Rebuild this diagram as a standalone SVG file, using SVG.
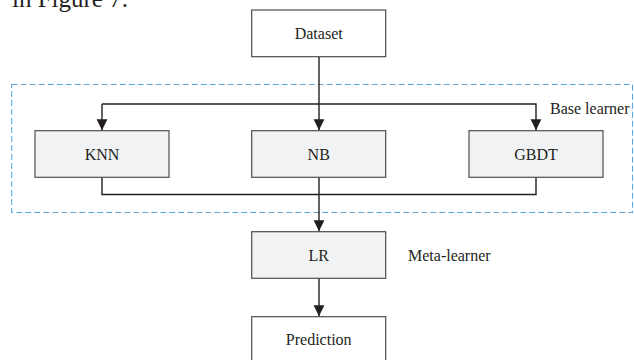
<svg xmlns="http://www.w3.org/2000/svg" width="634" height="360" viewBox="0 0 634 360">
<style>
.box{stroke:#4d4d4d;stroke-width:1.2}
.gray{fill:#f1f2f4}
.white{fill:#ffffff}
.t{font-size:16px;fill:#231f20}
.c{text-anchor:middle}
.ln{fill:none;stroke:#231f20;stroke-width:1.4}
.dash{fill:none;stroke:#5ba6de;stroke-width:1.1;stroke-dasharray:6,3}
</style>
<defs>
<marker id="ah" markerUnits="userSpaceOnUse" markerWidth="12" markerHeight="12" viewBox="0 0 12 12" refX="11" refY="6" orient="auto">
<path d="M0,0.6 L11,6 L0,11.4 Z" fill="#231f20"/>
</marker>
</defs>
<rect width="634" height="360" fill="#ffffff"/>
<g font-family="Liberation Serif, Times New Roman, serif">
<text x="12" y="7" font-size="25" fill="#231f20">in Figure 7.</text>
<g id="base-learner-group">
<rect class="dash" x="11.7" y="84.5" width="620.8" height="128"/>
<text class="t" x="550" y="113.5">Base learner</text>
</g>
<g id="connectors">
<line class="ln" x1="319" y1="56.7" x2="319" y2="130.2" marker-end="url(#ah)"/>
<polyline class="ln" points="102,104 536,104 536,130.2" marker-end="url(#ah)"/>
<line class="ln" x1="102" y1="104" x2="102" y2="130.2" marker-end="url(#ah)"/>
<polyline class="ln" points="102,177.3 102,194.5 536,194.5 536,177.3"/>
<line class="ln" x1="319" y1="177.3" x2="319" y2="231.2" marker-end="url(#ah)"/>
<line class="ln" x1="319" y1="278.3" x2="319" y2="316.2" marker-end="url(#ah)"/>
</g>
<g id="dataset">
<rect class="box white" x="251.7" y="10" width="134" height="46.7"/>
<text class="t c" x="318.7" y="38.8">Dataset</text>
</g>
<g id="knn">
<rect class="box gray" x="35" y="130.7" width="134" height="46.6"/>
<text class="t c" x="102" y="159.5">KNN</text>
</g>
<g id="nb">
<rect class="box gray" x="251.7" y="130.7" width="134" height="46.6"/>
<text class="t c" x="318.7" y="159.5">NB</text>
</g>
<g id="gbdt">
<rect class="box gray" x="469" y="130.7" width="134" height="46.6"/>
<text class="t c" x="536" y="159.5">GBDT</text>
</g>
<g id="lr">
<rect class="box gray" x="251.7" y="231.7" width="134" height="46.6"/>
<text class="t c" x="318.7" y="260.5">LR</text>
</g>
<text class="t" x="408" y="260.5">Meta-learner</text>
<g id="prediction">
<rect class="box white" x="251.7" y="316.7" width="134" height="46.6"/>
<text class="t c" x="318.7" y="345.3">Prediction</text>
</g>
</g>
</svg>
